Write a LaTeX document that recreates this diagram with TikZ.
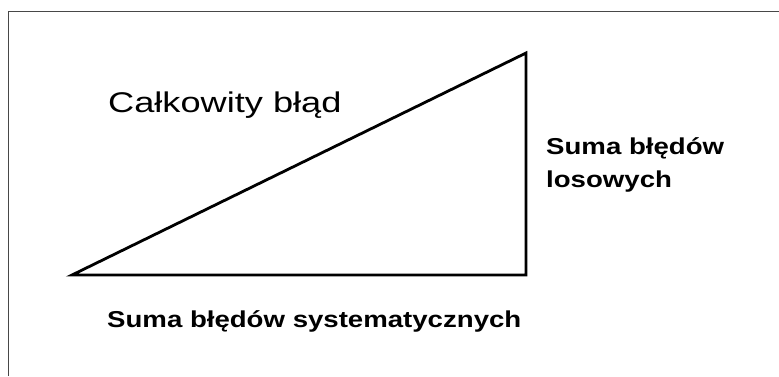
\documentclass[tikz,border=0pt]{standalone}
\usepackage{fontspec}
\setmainfont[FakeStretch=1.2]{Liberation Sans}
\newfontfamily\widefont[FakeStretch=1.27]{Liberation Sans}
\begin{document}
\begin{tikzpicture}[x=1pt, y=-1pt, >=stealth,
    label text/.style={anchor=base west, inner sep=0pt, font=\bfseries\fontsize{23}{33}\selectfont, align=left},
    side/.style={line width=2.8pt, line join=miter}]
    \useasboundingbox (0,0) rectangle (779,376);
    % ramka
    \draw[line width=1.5pt, black!72] (8.5,376) -- (8.5,11.5) -- (779,11.5);

    % wierzcholki trojkata
    \coordinate (A) at (72,275);
    \coordinate (B) at (526,275);
    \coordinate (C) at (526,53);
    \draw[side] (A) -- (B) -- (C) -- cycle;

    % opisy
    \node[anchor=base west, inner sep=0pt, font=\widefont\fontsize{28.5}{30}\selectfont] (total) at (108,112) {Całkowity błąd};
    \node[label text] (random) at (546,187) {Suma błędów\\losowych};
    \node[label text] (systematic) at (107,327) {Suma błędów systematycznych};
\end{tikzpicture}
\end{document}
